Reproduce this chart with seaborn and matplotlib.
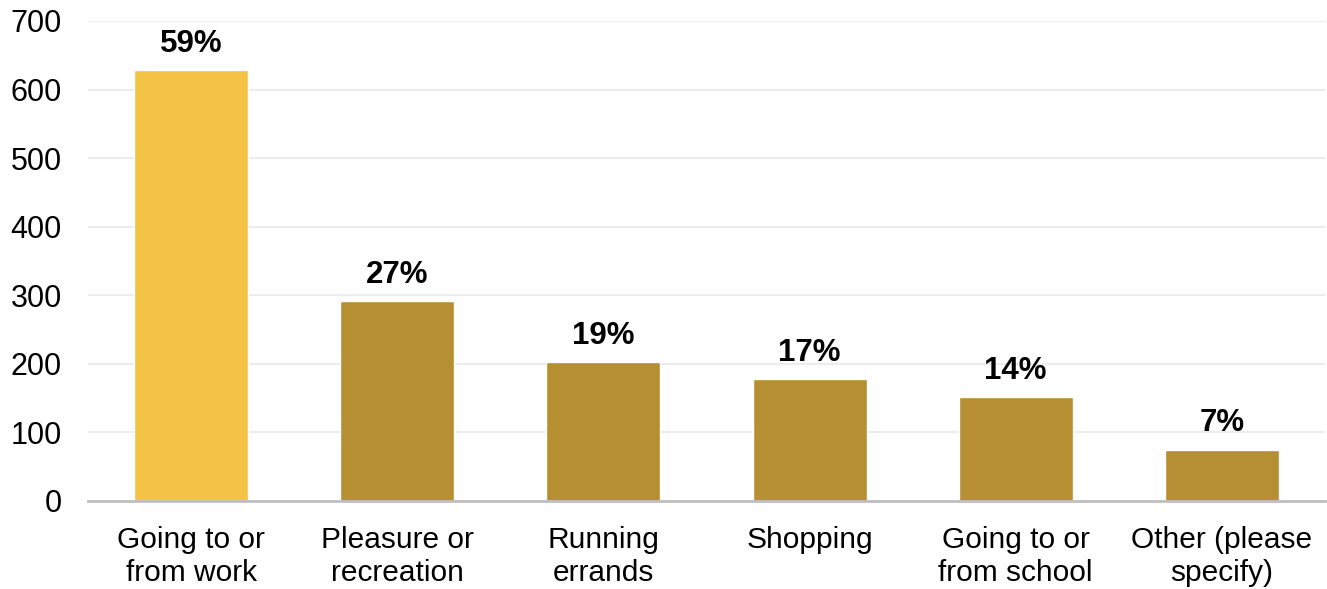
import matplotlib
matplotlib.use("Agg")
import matplotlib.pyplot as plt
import seaborn as sns
import pandas as pd

# Trip purposes and respondent counts
categories = [
    "Going to or\nfrom work",
    "Pleasure or\nrecreation",
    "Running\nerrands",
    "Shopping",
    "Going to or\nfrom school",
    "Other (please\nspecify)",
]
counts = [628, 291, 203, 178, 151, 75]
total_respondents = 1064
bar_colors = ["#F4C244", "#B68F32", "#B68F32", "#B68F32", "#B68F32", "#B68F32"]
y_ticks = [0, 100, 200, 300, 400, 500, 600, 700]

sns.set_theme(style="white")
plt.rcParams["font.family"] = ["Liberation Sans", "DejaVu Sans"]

df = pd.DataFrame({"purpose": categories, "count": counts})

fig = plt.figure(figsize=(13.27, 5.89), dpi=100)
ax = fig.add_axes([88 / 1327, 1 - 501 / 589, (1325 - 88) / 1327, (501 - 21) / 589])

sns.barplot(
    data=df, x="purpose", y="count", hue="purpose",
    palette=bar_colors, saturation=1, width=0.553, legend=False, ax=ax,
    zorder=3,
)

ax.set_ylim(0, 700)
ax.set_xlim(-0.5, len(categories) - 0.5)
ax.set_yticks(y_ticks)
ax.set_yticklabels([str(t) for t in y_ticks])
ax.yaxis.grid(True, color="#EBEBEB", linewidth=1.3, zorder=0)
ax.set_axisbelow(True)

for side in ["top", "right", "left"]:
    ax.spines[side].set_visible(False)
ax.spines["bottom"].set_color("#BFBFBF")
ax.spines["bottom"].set_linewidth(2)
ax.spines["bottom"].set_zorder(4)

ax.tick_params(axis="y", length=0, pad=19, labelsize=22, labelcolor="black")
ax.tick_params(axis="x", length=0, pad=18, labelsize=21.5, labelcolor="black")
for lbl in ax.get_xticklabels():
    lbl.set_linespacing(1.22)

ax.set_xlabel("")
ax.set_ylabel("")

# Percentage of respondents above each bar
for i, c in enumerate(counts):
    pct = round(c / total_respondents * 100)
    ax.annotate(f"{pct}%", xy=(i, c), xytext=(0, 8), textcoords="offset points",
                ha="center", va="bottom", fontsize=22.5, fontweight="bold",
                color="black")

fig.savefig("out.png", dpi=100)
